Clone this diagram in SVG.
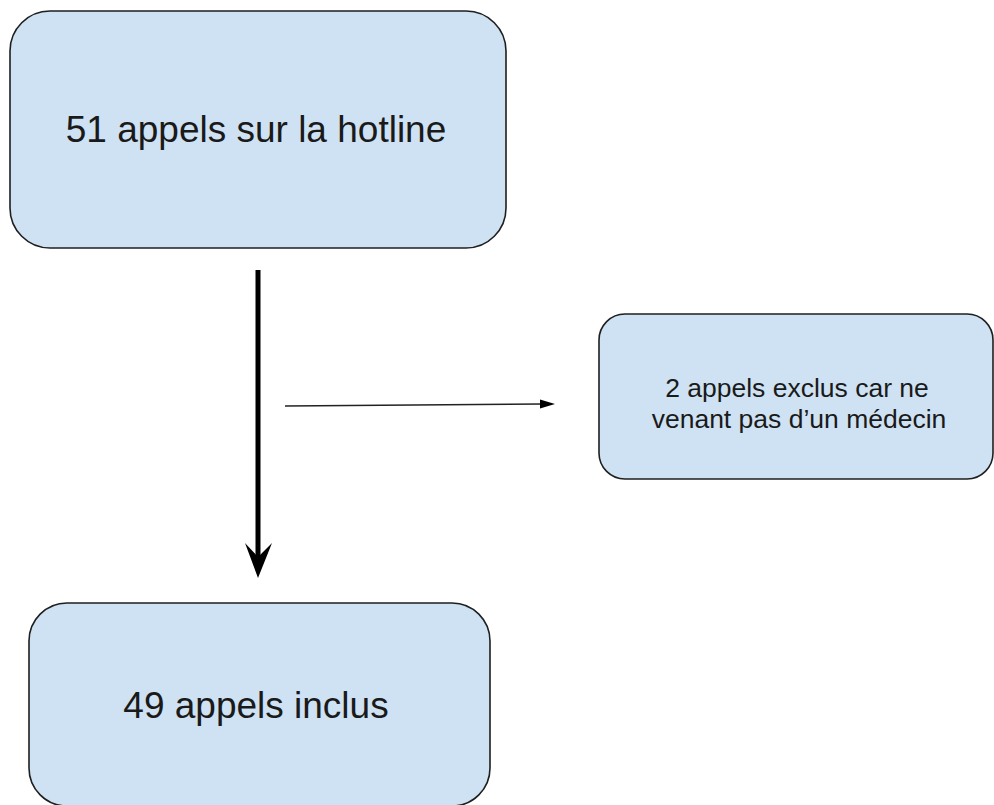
<svg xmlns="http://www.w3.org/2000/svg" width="994" height="805" viewBox="0 0 994 805">
<style>
.box{fill:#cfe2f3;stroke:#1f1f1f;stroke-width:1.6}
.lbl{font-family:"Liberation Sans",Arial,sans-serif;fill:#1a1a1a;text-anchor:middle}
</style>
<rect width="994" height="805" fill="#ffffff"/>
<g id="node-hotline">
<rect class="box" x="10" y="11" width="496" height="237" rx="40" ry="40"/>
<text class="lbl" x="256" y="142" font-size="37">51 appels sur la hotline</text>
</g>
<g id="node-exclus">
<rect class="box" x="599" y="314" width="394" height="165" rx="26" ry="26"/>
<text class="lbl" x="797" y="397" font-size="26.5">2 appels exclus car ne</text>
<text class="lbl" x="799" y="428" font-size="26.5">venant pas d’un médecin</text>
</g>
<g id="node-inclus">
<rect class="box" x="29" y="603" width="461" height="203" rx="38" ry="38"/>
<text class="lbl" x="256" y="718" font-size="37">49 appels inclus</text>
</g>
<g id="connectors">
<line x1="258" y1="270" x2="258" y2="560" stroke="#000" stroke-width="5"/>
<polygon points="258,578 245,543 258,557 272,543" fill="#000"/>
<line x1="285" y1="406" x2="542" y2="404" stroke="#222" stroke-width="1.6"/>
<polygon points="555,404 540,399.5 540,408.5" fill="#000"/>
</g>
</svg>
